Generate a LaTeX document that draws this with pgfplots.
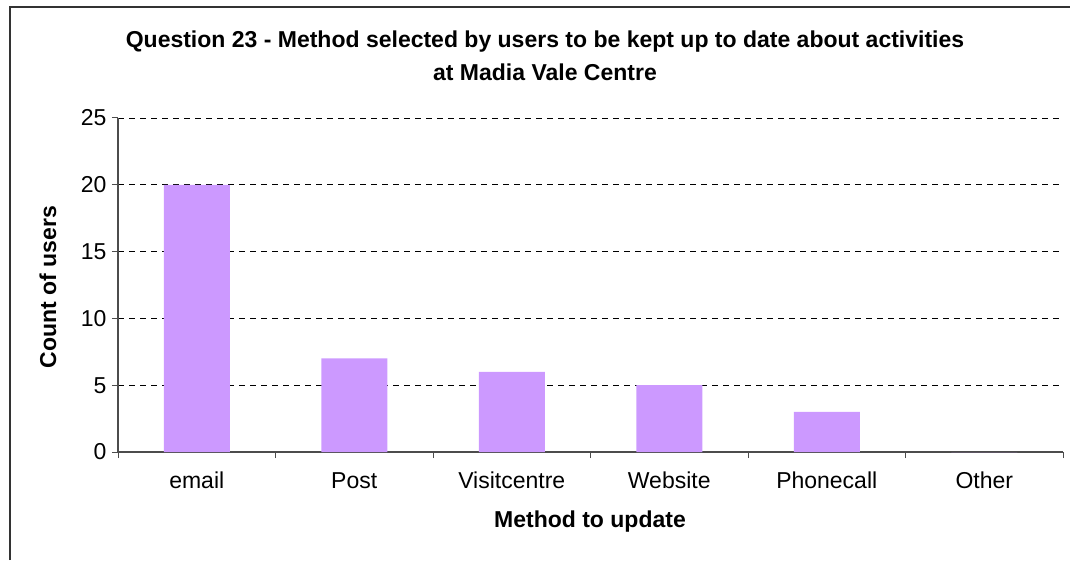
\documentclass[border=0pt]{standalone}
\usepackage{pgfplots}
\pgfplotsset{compat=1.18}
\usepackage{fontspec}
\setmainfont{Liberation Sans}
\begin{document}
\begin{tikzpicture}[x=1pt,y=1pt]
\path[use as bounding box] (0,0) rectangle (1070,560);
\draw[black!80, line width=1.2pt] (10,0) -- (10,553) -- (1070,553);
\begin{axis}[
  at={(118pt,108pt)}, anchor=south west,
  scale only axis, width=945pt, height=334pt,
  xmin=-0.5, xmax=5.5, ymin=0, ymax=25,
  xtick={-0.5,0.5,1.5,2.5,3.5,4.5,5.5},
  xticklabels={},
  extra x ticks={0,1,2,3,4,5},
  extra x tick labels={email,Post,Visitcentre,Website,Phonecall,Other},
  extra x tick style={major tick length=0pt, grid=none},
  ytick={0,5,10,15,20,25},
  tick style={black!70, line width=1pt},
  major tick length=6pt,
  tick align=outside,
  ymajorgrids, grid style={black, line width=0.8pt, dash pattern=on 6pt off 5pt},
  axis x line*=bottom, axis y line*=left,
  axis line style={black!70, line width=1.2pt},
  x axis line style={-}, y axis line style={-},
  ticklabel style={font=\fontsize{23}{27}\selectfont},
  yticklabel style={xshift=-2pt},
  xticklabel style={yshift=-17pt, text height=16pt, text depth=5pt},
  /pgf/number format/assume math mode=true,
  ybar, bar width=66pt,
]
\addplot[fill={rgb,255:red,204;green,153;blue,255}, draw=none] coordinates {(0,20) (1,7) (2,6) (3,5) (4,3) (5,0)};
\end{axis}
\node[font=\fontsize{23}{27}\selectfont\bfseries, align=center] at (545,504) {Question 23 - Method selected by users to be kept up to date about activities\\[6pt] at Madia Vale Centre};
\node[font=\fontsize{23}{27}\selectfont\bfseries, rotate=90] at (48,273) {Count of users};
\node[font=\fontsize{23}{27}\selectfont\bfseries] at (590,38) {Method to update};
\end{tikzpicture}
\end{document}
